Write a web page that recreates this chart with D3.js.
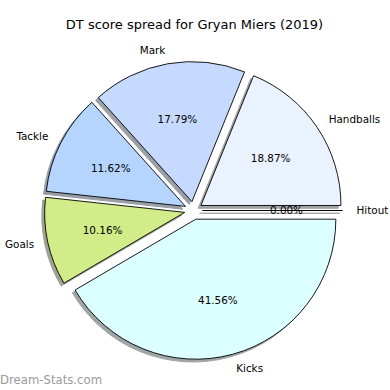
<!DOCTYPE html>
<html>
<head>
<meta charset="utf-8">
<script src="https://cdn.jsdelivr.net/npm/d3@7"></script>
<style>
  body { margin: 0; background: #fff; }
  text { font-family: "DejaVu Sans", sans-serif; }
</style>
</head>
<body>
<div id="container"></div>
<script>
/* DATA */
const labels = ["Handballs", "Mark", "Tackle", "Goals", "Kicks", "Hitout"]
const values = [18.87, 17.79, 11.62, 10.16, 41.56, 0]
const colors = ["#eaf2ff", "#c6d9ff", "#b5d5ff", "#d1ec88", "#dcffff", "#ffffff"]

/* CONSTANTS */
const width = 390, height = 390
const cx = 193.5, cy = 210.5, R = 140
const explode = 9
const shadowOff = [-2.8, 2.8]

const svg = d3.select("#container")
  .append("svg")
  .attr("width", width)
  .attr("height", height)

svg.append("rect").attr("width", width).attr("height", height).attr("fill", "#fff")

// title
svg.append("text")
  .attr("x", 194.5)
  .attr("y", 29)
  .attr("text-anchor", "middle")
  .attr("font-size", 13)
  .text("DT score spread for Gryan Miers (2019)")

// counter-clockwise from 3 o'clock, like matplotlib
const pie = d3.pie()
  .sort(null)
  .value(d => d.value)
  .startAngle(Math.PI / 2)
  .endAngle(Math.PI / 2 - 2 * Math.PI)

const data = labels.map((l, i) => ({ label: l, value: values[i], color: colors[i] }))
const arcs = pie(data)
const total = d3.sum(values)

const arc = d3.arc().innerRadius(0).outerRadius(R)

// center of each exploded wedge
arcs.forEach(a => {
  const m = (a.startAngle + a.endAngle) / 2
  a.dx = Math.sin(m)
  a.dy = -Math.cos(m)
  a.ox = cx + explode * a.dx
  a.oy = cy + explode * a.dy
})

const shade = c => {
  const r = d3.rgb(c)
  return d3.rgb(r.r * 0.3, r.g * 0.3, r.b * 0.3).toString()
}

// shadows first
svg.append("g").selectAll("path")
  .data(arcs)
  .join("path")
  .attr("d", arc)
  .attr("transform", a => `translate(${a.ox + shadowOff[0]},${a.oy + shadowOff[1]})`)
  .attr("fill", a => shade(a.data.color))
  .attr("stroke", a => shade(a.data.color))
  .attr("stroke-width", 1)
  .attr("opacity", 0.5)

svg.append("g").selectAll("path")
  .data(arcs)
  .join("path")
  .attr("d", arc)
  .attr("transform", a => `translate(${a.ox},${a.oy})`)
  .attr("fill", a => a.data.color)
  .attr("stroke", "#000")
  .attr("stroke-width", 0.9)
  .attr("stroke-linejoin", "round")

// outer labels
svg.append("g").selectAll("text")
  .data(arcs)
  .join("text")
  .attr("x", a => a.ox + 1.1 * R * a.dx)
  .attr("y", a => a.oy + 1.1 * R * a.dy)
  .attr("dy", "0.36em")
  .attr("text-anchor", a => (a.ox + 1.1 * R * a.dx - cx) > 0 ? "start" : "end")
  .attr("font-size", 10.4)
  .text(a => a.data.label)

// percent labels
const fmt = d3.format(".2f")
svg.append("g").selectAll("text")
  .data(arcs)
  .join("text")
  .attr("x", a => a.ox + 0.6 * R * a.dx)
  .attr("y", a => a.oy + 0.6 * R * a.dy)
  .attr("dy", "0.36em")
  .attr("text-anchor", "middle")
  .attr("font-size", 10.4)
  .text(a => fmt(a.value / total * 100) + "%")

// watermark
svg.append("text")
  .attr("x", 0)
  .attr("y", 384)
  .attr("font-size", 11.7)
  .attr("fill", "#9a9a9a")
  .text("Dream-Stats.com")
</script>
</body>
</html>
